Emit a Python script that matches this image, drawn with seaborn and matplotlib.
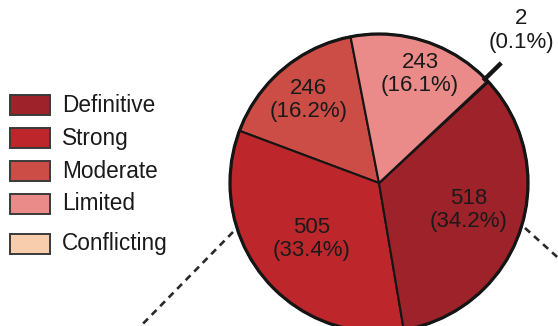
import numpy as np
import matplotlib
matplotlib.use("Agg")
import matplotlib.pyplot as plt
from matplotlib.patches import Rectangle, Circle
import seaborn as sns

# Evidence classification counts
categories = ["Definitive", "Strong", "Moderate", "Limited", "Conflicting"]
counts = [518, 505, 246, 243, 2]
colors = ["#9E2229", "#BD272B", "#CB4D45", "#EA8B89", "#F8CDAE"]

# Order of wedges going counter-clockwise around the pie
pie_order = ["Moderate", "Strong", "Definitive", "Conflicting", "Limited"]

sns.set_theme(style="white")
plt.rcParams["font.family"] = ["Liberation Sans", "DejaVu Sans"]

W, H = 558, 326
DPI = 100
fig = plt.figure(figsize=(W / DPI, H / DPI), dpi=DPI)
fig.patch.set_facecolor("white")

# Axes sized so the unit-radius pie sits at pixel centre (379, 183), r = 149
cx, cy, r = 379, 183, 149
ax = fig.add_axes([(cx - r) / W, (H - cy - r) / H, 2 * r / W, 2 * r / H])

idx = [categories.index(c) for c in pie_order]
vals = [counts[i] for i in idx]
cols = [colors[i] for i in idx]
total = sum(counts)

wedges, _ = ax.pie(
    vals,
    colors=cols,
    startangle=101,
    counterclock=True,
    radius=1.0,
    wedgeprops=dict(edgecolor="#151515", linewidth=1.5),
)
ax.set_xlim(-1, 1)
ax.set_ylim(-1, 1)
ax.set_aspect("equal")
ax.axis("off")
for w in wedges:
    w.set_clip_on(False)
ax.add_patch(Circle((0, 0), 1.0, fill=False, edgecolor="#151515",
                    linewidth=2.3, clip_on=False))

# Value labels placed along each wedge's mid angle
label_radius = {"Moderate": 0.73, "Strong": 0.59, "Definitive": 0.63,
                "Conflicting": 1.40, "Limited": 0.78}
label_shift = {"Moderate": 0.0, "Strong": 0.0, "Definitive": 2.0,
               "Conflicting": 4.0, "Limited": -2.8}

for w, name, v in zip(wedges, pie_order, vals):
    mid = np.deg2rad((w.theta1 + w.theta2) / 2 + label_shift[name])
    rr = label_radius[name]
    pct = 100 * v / total
    ax.text(rr * np.cos(mid), rr * np.sin(mid), f"{v}\n({pct:.1f}%)",
            ha="center", va="center", fontsize=16, color="#1a1a1a",
            linespacing=1.15, clip_on=False)
    if name == "Conflicting":
        a = np.deg2rad((w.theta1 + w.theta2) / 2 + 1.5)
        ax.plot([0.98 * np.cos(a), 1.15 * np.cos(a)],
                [0.98 * np.sin(a), 1.15 * np.sin(a)],
                color="#151515", linewidth=3.2, solid_capstyle="butt",
                clip_on=False)

# Dashed connector lines leading off the figure
def dashed(p0, p1):
    x0, y0 = (p0[0] - cx) / r, (cy - p0[1]) / r
    x1, y1 = (p1[0] - cx) / r, (cy - p1[1]) / r
    ax.plot([x0, x1], [y0, y1], color="#2a2a2a", linewidth=1.9,
            linestyle=(0, (2.6, 2.0)), clip_on=False)

dashed((233, 232), (127, 340))
dashed((525, 228), (575, 273))

# Legend
row_y = [105, 138, 171, 204, 243.5]
for name, col, yc in zip(categories, colors, row_y):
    fig.add_artist(Rectangle((10 / W, (H - yc - 10) / H), 40 / W, 20 / H,
                             transform=fig.transFigure, facecolor=col,
                             edgecolor="#3a3a3a", linewidth=1.4))
    fig.text(62 / W, (H - yc) / H, name, ha="left", va="center",
             fontsize=16.3, color="#1a1a1a")

fig.savefig("out.png", dpi=DPI, facecolor="white")
